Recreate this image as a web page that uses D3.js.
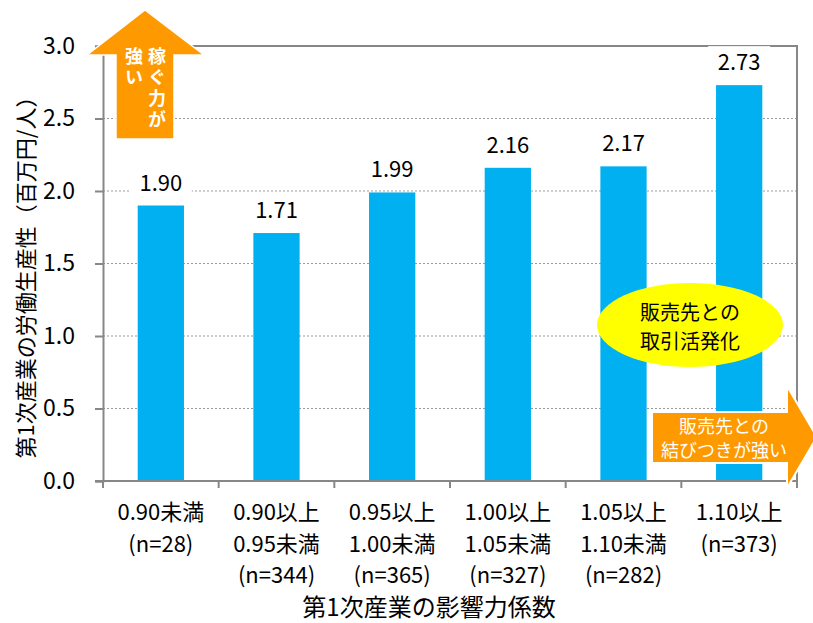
<!DOCTYPE html>
<html>
<head>
<meta charset="utf-8">
<script src="https://cdn.jsdelivr.net/npm/d3@7"></script>
<style>
  html, body { margin: 0; padding: 0; background: #fff; }
  svg { display: block; font-family: "Noto Sans CJK JP", "Noto Sans", sans-serif; }
</style>
</head>
<body>
<svg id="chart" width="813" height="623"></svg>
<script>
// Labour productivity of primary industry by its influence coefficient class
const categoryLines = [
  ["0.90未満", "(n=28)"],
  ["0.90以上", "0.95未満", "(n=344)"],
  ["0.95以上", "1.00未満", "(n=365)"],
  ["1.00以上", "1.05未満", "(n=327)"],
  ["1.05以上", "1.10未満", "(n=282)"],
  ["1.10以上", "(n=373)"]
];
const categories = categoryLines.map(d => d.join(" "));
const productivity = [1.90, 1.71, 1.99, 2.16, 2.17, 2.73];
const yTicks = [0, 0.5, 1.0, 1.5, 2.0, 2.5, 3.0];
const yTitle = "第1次産業の労働生産性（百万円/人）";
const xTitle = "第1次産業の影響力係数";
const upArrowCols = ["稼ぐ力が", "強い"];
const bubbleLines = ["販売先との", "取引活発化"];
const rightArrowLines = ["販売先との", "結びつきが強い"];

const svg = d3.select("#chart");
const plot = { left: 103, right: 797, top: 46, bottom: 481 };
const axisColor = "#878787";

const x = d3.scaleBand().domain(categories).range([plot.left, plot.right]).paddingInner(0.6).paddingOuter(0.3);
const xOuter = d3.scaleBand().domain(categories).range([plot.left, plot.right]);
const y = d3.scaleLinear().domain([0, 3]).range([plot.bottom, plot.top]);

// dotted horizontal gridlines
svg.append("g").selectAll("line")
  .data(yTicks.filter(t => t > 0 && t < 3))
  .join("line")
  .attr("x1", plot.left).attr("x2", plot.right)
  .attr("y1", d => y(d)).attr("y2", d => y(d))
  .attr("stroke", "#9a9a9a").attr("stroke-width", 1.2)
  .attr("stroke-dasharray", "2,2");

// plot area frame (top and right)
svg.append("path")
  .attr("d", `M${plot.left},${y(3)}H${plot.right}V${plot.bottom}`)
  .attr("fill", "none").attr("stroke", axisColor).attr("stroke-width", 2);

// bars
svg.append("g").selectAll("rect")
  .data(productivity)
  .join("rect")
  .attr("x", (d, i) => x(categories[i]))
  .attr("width", x.bandwidth())
  .attr("y", d => y(d))
  .attr("height", d => y(0) - y(d))
  .attr("fill", "#00B0F0");

// value labels with white backing
const labels = svg.append("g").selectAll("g")
  .data(productivity)
  .join("g")
  .attr("transform", (d, i) => `translate(${x(categories[i]) + x.bandwidth() / 2},${y(d) - 25})`);
labels.append("rect")
  .attr("x", -31).attr("y", -14).attr("width", 62).attr("height", 28)
  .attr("fill", "#fff");
labels.append("text")
  .attr("text-anchor", "middle").attr("dominant-baseline", "central")
  .attr("font-size", 22).attr("fill", "#000")
  .text(d => d.toFixed(2));

// y axis
const yAxis = svg.append("g")
  .attr("transform", `translate(${plot.left},0)`)
  .call(d3.axisLeft(y).tickValues(yTicks).tickFormat(d3.format(".1f")).tickSize(8).tickPadding(20));
yAxis.select(".domain").attr("stroke", axisColor).attr("stroke-width", 2);
yAxis.selectAll(".tick line").attr("stroke", axisColor).attr("stroke-width", 2);
yAxis.selectAll(".tick text").attr("font-size", 23).attr("fill", "#000")
  .attr("font-family", "'Noto Sans CJK JP', sans-serif");

// x axis: ticks at category boundaries
const xAxisG = svg.append("g").attr("transform", `translate(0,${plot.bottom})`);
xAxisG.append("line")
  .attr("x1", plot.left - 8).attr("x2", plot.right)
  .attr("stroke", axisColor).attr("stroke-width", 2);
xAxisG.selectAll("line.tk")
  .data(categories.map(c => xOuter(c)).concat([plot.right]))
  .join("line").attr("class", "tk")
  .attr("x1", d => d).attr("x2", d => d)
  .attr("y1", 0).attr("y2", 7)
  .attr("stroke", axisColor).attr("stroke-width", 2);

// category labels, one text per category with stacked lines
svg.append("g").selectAll("text")
  .data(categoryLines)
  .join("text")
  .attr("text-anchor", "middle")
  .attr("font-size", 22).attr("fill", "#000")
  .attr("transform", (d, i) => `translate(${xOuter(categories[i]) + xOuter.bandwidth() / 2},0)`)
  .selectAll("tspan")
  .data(d => d)
  .join("tspan")
  .attr("x", 0)
  .attr("y", (d, j) => 520 + j * 31.5)
  .text(d => d);

// axis titles
svg.append("text")
  .attr("transform", `translate(24,272) rotate(-90)`)
  .attr("text-anchor", "middle").attr("dominant-baseline", "central")
  .attr("font-size", 22).attr("fill", "#000")
  .text(yTitle);
svg.append("text")
  .attr("x", 429).attr("y", 616)
  .attr("text-anchor", "middle")
  .attr("font-size", 24).attr("fill", "#000")
  .text(xTitle);

// upward arrow: stronger earning power
const orange = "#FF9900";
svg.append("path")
  .attr("d", "M145,10 L204,55 L174,55 L174,139 L116,139 L116,55 L87,55 Z")
  .attr("fill", orange).attr("stroke", "#fff").attr("stroke-width", 1.5);
svg.append("g").selectAll("text")
  .data(upArrowCols)
  .join("text")
  .attr("x", (d, i) => i === 0 ? 157 : 134)
  .attr("y", 47)
  .attr("fill", "#fff").attr("font-size", 18).attr("font-weight", "bold")
  .style("writing-mode", "vertical-rl")
  .style("text-orientation", "upright")
  .attr("letter-spacing", 3)
  .text(d => d);

// bubble: more active trade with buyers
svg.append("ellipse")
  .attr("cx", 690).attr("cy", 325).attr("rx", 93).attr("ry", 42)
  .attr("fill", "#FFFF00");
svg.append("text")
  .attr("text-anchor", "middle").attr("font-size", 20).attr("fill", "#000")
  .selectAll("tspan").data(bubbleLines).join("tspan")
  .attr("x", 690).attr("y", (d, i) => 320 + i * 29)
  .text(d => d);

// rightward arrow: stronger ties with buyers
svg.append("path")
  .attr("d", "M652,412 L787,412 L787,386 L817,437 L787,488 L787,463 L652,463 Z")
  .attr("fill", orange).attr("stroke", "#fff").attr("stroke-width", 2);
svg.append("text")
  .attr("text-anchor", "middle").attr("font-size", 18).attr("fill", "#fff")
  .selectAll("tspan").data(rightArrowLines).join("tspan")
  .attr("x", 724).attr("y", (d, i) => 433 + i * 24)
  .text(d => d);
</script>
</body>
</html>
